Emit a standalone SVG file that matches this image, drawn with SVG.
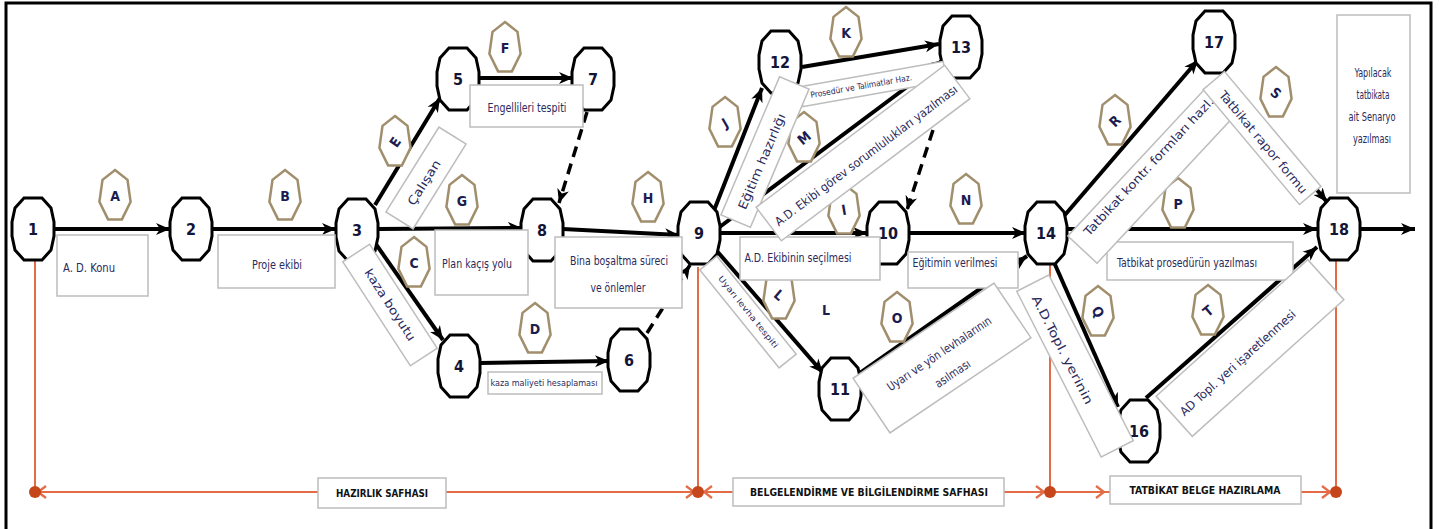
<svg xmlns="http://www.w3.org/2000/svg" width="1439" height="529" viewBox="0 0 1439 529">
<defs>
<style>
.edge{fill:none;stroke:#000;stroke-width:4;marker-end:url(#ah)}
.dash{fill:none;stroke:#000;stroke-width:3.5;stroke-dasharray:11 7;marker-end:url(#ah)}
.oct{fill:#fff;stroke:#000;stroke-width:3}
.num{font-family:'Liberation Sans Narrow','DejaVu Sans Condensed','Liberation Sans',sans-serif;font-weight:bold;font-size:16px;fill:#141436;text-anchor:middle;dominant-baseline:central}
.hep{fill:#fff;stroke:#a08e6c;stroke-width:2.5}
.let{font-family:'Liberation Sans Narrow','DejaVu Sans Condensed','Liberation Sans',sans-serif;font-weight:bold;font-size:14px;fill:#1c1c50;text-anchor:middle;dominant-baseline:central}
.box{fill:#fff;stroke:#bdbdbd;stroke-width:1.5}
.lbl{font-family:'Liberation Sans Narrow','DejaVu Sans Condensed','Liberation Sans',sans-serif;font-size:12px;fill:#2b2a5c;text-anchor:middle;dominant-baseline:central;lengthAdjust:spacingAndGlyphs}
.phase{fill:none;stroke:#e36b45;stroke-width:2}
.chev{fill:none;stroke:#e36b45;stroke-width:2.2}
.dot{fill:#c4461a}
.ph{font-family:'Liberation Sans Narrow','DejaVu Sans Condensed','Liberation Sans',sans-serif;font-weight:bold;font-size:11px;fill:#111;text-anchor:middle;dominant-baseline:central}
</style>
<marker id="ah" markerUnits="userSpaceOnUse" markerWidth="16" markerHeight="14" refX="14" refY="7" orient="auto">
<path d="M0,1 L14,7 L0,13 L4,7 z" fill="#000"/>
</marker>
<polygon id="octShape" class="oct" points="-9,-31 9,-31 18,-21 21,-7 21,7 18,21 9,31 -9,31 -18,21 -21,7 -21,-7 -18,-21"/>
<polygon id="heptShape" class="hep" points="0,-26 12.5,-16.2 15.6,5.8 6.9,23.4 -6.9,23.4 -15.6,5.8 -12.5,-16.2"/>
</defs>

<rect width="1439" height="529" fill="#fff"/>
<!-- outer frame -->
<path d="M6,540 L6,3 L1431,3 L1431,540" fill="none" stroke="#000" stroke-width="3"/>

<!-- phase line along the bottom -->
<g id="phases">
<path class="phase" d="M35,260 L35,492 M698,267 L698,492 M1050,263 L1050,492 M1336,260 L1336,492"/>
<path class="phase" d="M35,492 L318,492 M446,492 L698,492 M698,492 L733,492 M1003,492 L1050,492 M1050,492 L1110,492 M1300,492 L1336,492"/>
<polyline class="chev" points="46,486 38,492 46,498"/>
<polyline class="chev" points="686,486 694,492 686,498"/>
<polyline class="chev" points="712,486 704,492 712,498"/>
<polyline class="chev" points="1036,486 1044,492 1036,498"/>
<polyline class="chev" points="1096,486 1104,492 1096,498"/>
<polyline class="chev" points="1322,486 1330,492 1322,498"/>
<circle class="dot" cx="35" cy="492" r="6"/>
<circle class="dot" cx="698" cy="492" r="6"/>
<circle class="dot" cx="1050" cy="492" r="6"/>
<circle class="dot" cx="1336" cy="492" r="6"/>
<rect class="box" x="318" y="478" width="128" height="30"/>
<text class="ph" x="382" y="493" textLength="92" lengthAdjust="spacingAndGlyphs">HAZIRLIK SAFHASI</text>
<rect class="box" x="733" y="478" width="271" height="28"/>
<text class="ph" x="869" y="492" textLength="238" lengthAdjust="spacingAndGlyphs">BELGELENDİRME VE BİLGİLENDİRME  SAFHASI</text>
<rect class="box" x="1110" y="476" width="191" height="28"/>
<text class="ph" x="1205" y="490" textLength="151" lengthAdjust="spacingAndGlyphs">TATBİKAT BELGE HAZIRLAMA</text>
</g>

<!-- activity arrows -->
<g id="connectors">
<path class="edge" d="M55,229 L170,229"/>
<path class="edge" d="M212,229 L336,229"/>
<path class="edge" d="M375,205 L440,98"/>
<path class="edge" d="M378,229 L522,228"/>
<path class="edge" d="M373,240 L443,340"/>
<path class="edge" d="M479,78 L573,78"/>
<path class="dash" d="M587,112 L559,203"/>
<path class="edge" d="M563,229 L679,235"/>
<path class="edge" d="M480,363 L609,361"/>
<path class="dash" d="M647,333 L690,265"/>
<path class="edge" d="M713,213 L762,88"/>
<path class="edge" d="M802,67 L939,44"/>
<path class="edge" d="M717,229 L943,60"/>
<path class="edge" d="M720,233 L867,233"/>
<path class="dash" d="M933,130 L907,210"/>
<path class="edge" d="M716,250 L823,373"/>
<path class="edge" d="M910,233 L1026,233"/>
<path class="edge" d="M860,373 L1027,256"/>
<path class="edge" d="M1064,216 L1198,60"/>
<path class="edge" d="M1221,75 L1327,202"/>
<path class="edge" d="M1068,229 L1317,229"/>
<path class="edge" d="M1360,229 L1415,229"/>
<path class="edge" d="M1053,260 L1118,407"/>
<path class="edge" d="M1146,398 L1317,247"/>
</g>

<!-- event nodes -->
<g id="n1" transform="translate(33,229)"><use href="#octShape"/><text class="num">1</text></g>
<g id="n2" transform="translate(191,229)"><use href="#octShape"/><text class="num">2</text></g>
<g id="n3" transform="translate(357,230)"><use href="#octShape"/><text class="num">3</text></g>
<g id="n4" transform="translate(459,366)"><use href="#octShape"/><text class="num">4</text></g>
<g id="n5" transform="translate(458,79)"><use href="#octShape"/><text class="num">5</text></g>
<g id="n6" transform="translate(629,360)"><use href="#octShape"/><text class="num">6</text></g>
<g id="n7" transform="translate(593,79)"><use href="#octShape"/><text class="num">7</text></g>
<g id="n8" transform="translate(542,230)"><use href="#octShape"/><text class="num">8</text></g>
<g id="n9" transform="translate(699,233)"><use href="#octShape"/><text class="num">9</text></g>
<g id="n10" transform="translate(888,233)"><use href="#octShape"/><text class="num">10</text></g>
<g id="n11" transform="translate(840,389)"><use href="#octShape"/><text class="num">11</text></g>
<g id="n12" transform="translate(780,62)"><use href="#octShape"/><text class="num">12</text></g>
<g id="n13" transform="translate(961,47)"><use href="#octShape"/><text class="num">13</text></g>
<g id="n14" transform="translate(1046,233)"><use href="#octShape"/><text class="num">14</text></g>
<g id="n16" transform="translate(1139,431)"><use href="#octShape"/><text class="num">16</text></g>
<g id="n17" transform="translate(1214,42)"><use href="#octShape"/><text class="num">17</text></g>
<g id="n18" transform="translate(1339,229)"><use href="#octShape"/><text class="num">18</text></g>

<!-- activity letters -->
<g id="activity-tags">
<g transform="translate(115,196)"><use href="#heptShape"/><text class="let">A</text></g>
<g transform="translate(285,196)"><use href="#heptShape"/><text class="let">B</text></g>
<g transform="translate(395,142)"><use href="#heptShape"/><text class="let" transform="rotate(-55)">E</text></g>
<g transform="translate(505,48)"><use href="#heptShape"/><text class="let">F</text></g>
<g transform="translate(462,201)"><use href="#heptShape"/><text class="let">G</text></g>
<g transform="translate(414,263)"><use href="#heptShape"/><text class="let">C</text></g>
<g transform="translate(535,329)"><use href="#heptShape"/><text class="let">D</text></g>
<g transform="translate(648,198)"><use href="#heptShape"/><text class="let">H</text></g>
<g transform="translate(725,123)"><use href="#heptShape"/><text class="let" transform="rotate(-30)">J</text></g>
<g transform="translate(804,138)"><use href="#heptShape"/><text class="let" transform="rotate(-40)">M</text></g>
<g transform="translate(846,33)"><use href="#heptShape"/><text class="let">K</text></g>
<g transform="translate(844,210)"><use href="#heptShape"/><text class="let" transform="rotate(-10)">I</text></g>
<g transform="translate(966,200)"><use href="#heptShape"/><text class="let">N</text></g>
<g transform="translate(779,295)"><use href="#heptShape"/><text class="let" transform="rotate(40)">L</text></g>
<g transform="translate(897,318)"><use href="#heptShape"/><text class="let">O</text></g>
<g transform="translate(1115,121)"><use href="#heptShape"/><text class="let" transform="rotate(-45)">R</text></g>
<g transform="translate(1276,93)"><use href="#heptShape"/><text class="let" transform="rotate(40)">S</text></g>
<g transform="translate(1178,204)"><use href="#heptShape"/><text class="let">P</text></g>
<g transform="translate(1098,312)"><use href="#heptShape"/><text class="let" transform="rotate(60)">Q</text></g>
<g transform="translate(1208,311)"><use href="#heptShape"/><text class="let" transform="rotate(-40)">T</text></g>
<text class="let" x="826" y="310">L</text>
</g>

<!-- activity descriptions -->
<g id="descriptions">
<rect class="box" x="57" y="235" width="91" height="61"/>
<text class="lbl" x="89" y="268" textLength="52" lengthAdjust="spacingAndGlyphs">A. D. Konu</text>
<rect class="box" x="218" y="235" width="117" height="53"/>
<text class="lbl" x="277" y="265" textLength="50" lengthAdjust="spacingAndGlyphs">Proje ekibi</text>
<rect class="box" x="470" y="85" width="113" height="42"/>
<text class="lbl" x="527" y="108" textLength="79" lengthAdjust="spacingAndGlyphs">Engellileri tespiti</text>
<rect class="box" x="435" y="230" width="93" height="65"/>
<text class="lbl" x="477" y="264" textLength="70" lengthAdjust="spacingAndGlyphs">Plan kaçış yolu</text>
<rect class="box" x="555" y="237" width="127" height="71"/>
<text class="lbl" x="619" y="261" textLength="98" lengthAdjust="spacingAndGlyphs">Bina boşaltma süreci</text>
<text class="lbl" x="618" y="288" textLength="55" lengthAdjust="spacingAndGlyphs">ve önlemler</text>
<rect class="box" x="488" y="372" width="114" height="22"/>
<text class="lbl" x="544" y="383" style="font-size:8px" textLength="107" lengthAdjust="spacingAndGlyphs">kaza maliyeti hesaplaması</text>
<rect class="box" x="740" y="237" width="140" height="43"/>
<text class="lbl" x="798" y="258" textLength="107" lengthAdjust="spacingAndGlyphs">A.D. Ekibinin seçilmesi</text>
<rect class="box" x="908" y="252" width="110" height="36"/>
<text class="lbl" x="955" y="263" textLength="85" lengthAdjust="spacingAndGlyphs">Eğitimin verilmesi</text>
<rect class="box" x="1107" y="242" width="186" height="38"/>
<text class="lbl" x="1187" y="263" textLength="140" lengthAdjust="spacingAndGlyphs">Tatbikat prosedürün yazılması</text>
<rect class="box" x="1337" y="15" width="73" height="178"/>
<text class="lbl" x="1373" y="73" textLength="37" lengthAdjust="spacingAndGlyphs">Yapılacak</text>
<text class="lbl" x="1373" y="95" textLength="33" lengthAdjust="spacingAndGlyphs">tatbikata</text>
<text class="lbl" x="1372" y="117" textLength="47" lengthAdjust="spacingAndGlyphs">ait Senaryo</text>
<text class="lbl" x="1372" y="139" textLength="38" lengthAdjust="spacingAndGlyphs">yazılması</text>

<g transform="translate(426,178) rotate(-58)"><rect class="box" x="-50" y="-16" width="100" height="32"/><text class="lbl" x="-5" y="1" textLength="51" lengthAdjust="spacingAndGlyphs">Çalışan</text></g>
<g transform="translate(390,305) rotate(57)"><rect class="box" x="-62" y="-16" width="124" height="32"/><text class="lbl" x="0" y="0" textLength="83" lengthAdjust="spacingAndGlyphs">kaza boyutu</text></g>
<g transform="translate(873,84) rotate(-10)"><rect class="box" x="-73" y="-10" width="146" height="20"/><text class="lbl" x="-12" y="0" style="font-size:8.5px" textLength="103" lengthAdjust="spacingAndGlyphs">Prosedür ve Talimatlar Haz.</text></g>
<g transform="translate(765,152) rotate(-67)"><rect class="box" x="-75" y="-16" width="150" height="32"/><text class="lbl" x="-10" y="1" textLength="103" lengthAdjust="spacingAndGlyphs">Eğitim hazırlığı</text></g>
<g transform="translate(863,153) rotate(-37)"><rect class="box" x="-118" y="-21" width="236" height="42"/><text class="lbl" x="1" y="4" textLength="225" lengthAdjust="spacingAndGlyphs">A.D. Ekibi görev sorumlulukları yazılması</text></g>
<g transform="translate(748,312) rotate(51)"><rect class="box" x="-63" y="-11" width="126" height="22"/><text class="lbl" x="0" y="0" style="font-size:8px" textLength="90" lengthAdjust="spacingAndGlyphs">Uyarı levha tespiti</text></g>
<g transform="translate(942,358) rotate(-34)"><rect class="box" x="-85" y="-33" width="170" height="66"/><text class="lbl" x="0" y="-5" textLength="123" lengthAdjust="spacingAndGlyphs">Uyarı ve yön levhalarının</text><text class="lbl" x="0" y="19" textLength="40" lengthAdjust="spacingAndGlyphs">asılması</text></g>
<g transform="translate(1152,175) rotate(-47)"><rect class="box" x="-102" y="-20" width="204" height="40"/><text class="lbl" x="4" y="-8" textLength="184" lengthAdjust="spacingAndGlyphs">Tatbikat  kontr. formları hazl.</text></g>
<g transform="translate(1262,138) rotate(50)"><rect class="box" x="-75" y="-14" width="150" height="28"/><text class="lbl" x="4" y="2" textLength="130" lengthAdjust="spacingAndGlyphs">Tatbikat  rapor formu</text></g>
<g transform="translate(1075,366) rotate(63)"><rect class="box" x="-93" y="-18" width="186" height="36"/><text class="lbl" x="-20" y="4" textLength="120" lengthAdjust="spacingAndGlyphs">A.D.Topl.  yerinin</text></g>
<g transform="translate(1250,348) rotate(-42)"><rect class="box" x="-102" y="-27" width="204" height="54"/><text class="lbl" x="-19" y="3" textLength="151" lengthAdjust="spacingAndGlyphs">AD Topl. yeri işaretlenmesi</text></g>
</g>
</svg>
